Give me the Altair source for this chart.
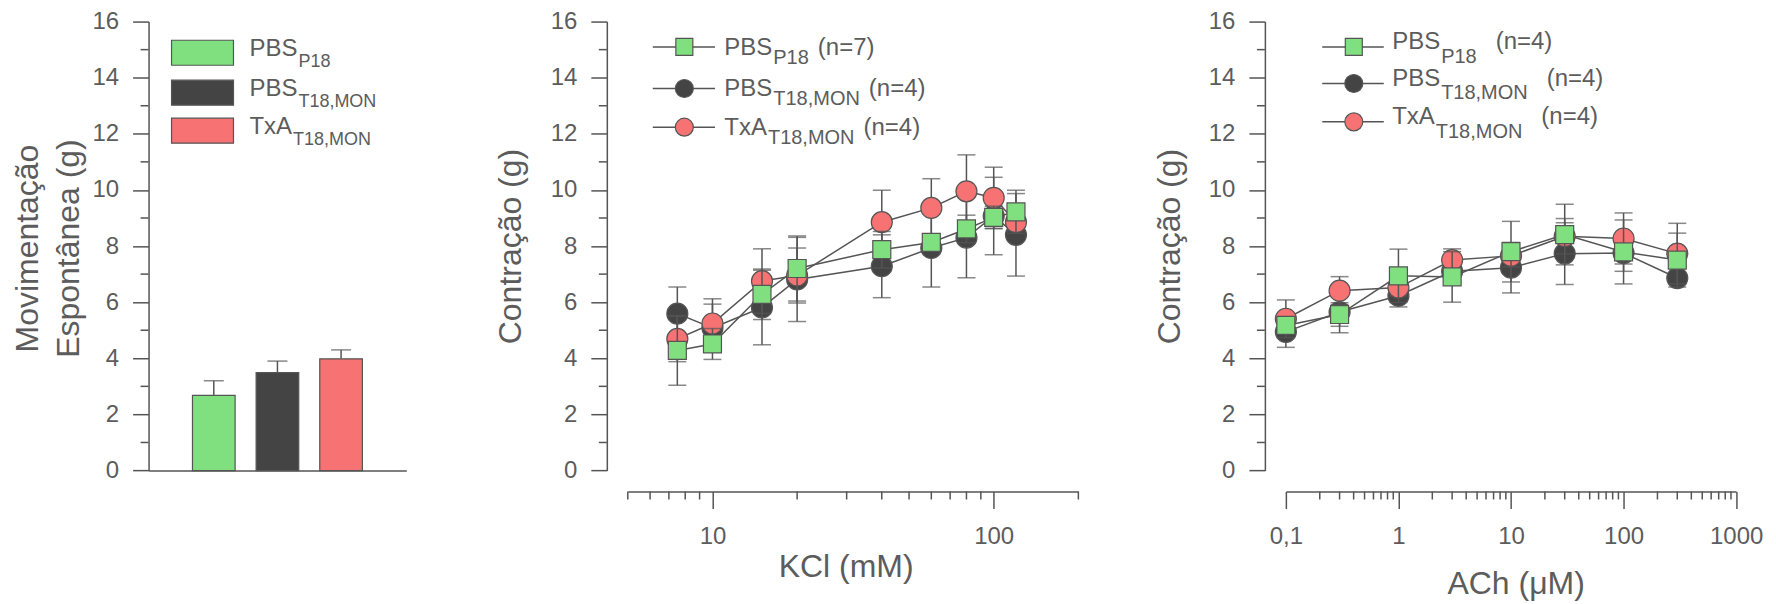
import altair as alt
import pandas as pd

FONT = "Liberation Sans"
TXT = "#5c5c5c"
AX = "#555555"
GREEN = "#80e080"
DARK = "#444444"
RED = "#f77272"

# ---------------- data ----------------
# Panel A: spontaneous movement (bars, mean + SEM)
bar_groups = ["PBS P18", "PBS T18,MON", "TxA T18,MON"]
bar_mean = [2.68, 3.49, 3.98]
bar_sem = [0.52, 0.41, 0.32]

# Panel B: KCl concentration-response
kcl_mM = [7.5, 10, 15, 20, 40, 60, 80, 100, 120]
kcl_pbs_p18 = [4.28, 4.51, 6.28, 7.20, 7.87, 8.13, 8.61, 9.02, 9.22]
kcl_pbs_p18_sem = [1.24, 0.55, 0.90, 1.16, 0.65, 0.30, 0.49, 0.40, 0.77]
kcl_pbs_t18 = [5.59, 5.08, 5.81, 6.81, 7.28, 7.93, 8.30, 9.07, 8.40]
kcl_pbs_t18_sem = [0.95, 0.85, 1.33, 1.50, 1.12, 1.39, 1.43, 1.38, 1.47]
kcl_txa_t18 = [4.69, 5.24, 6.75, 6.95, 8.85, 9.36, 9.95, 9.72, 8.85]
kcl_txa_t18_sem = [0.81, 0.88, 1.15, 0.98, 1.14, 1.04, 1.30, 1.09, 0.30]

# Panel C: ACh concentration-response
ach_uM = [0.1, 0.3, 1, 3, 10, 30, 100, 300]
ach_pbs_p18 = [5.17, 5.56, 6.94, 6.90, 7.80, 8.41, 7.79, 7.50]
ach_pbs_p18_sem = [0.20, 0.42, 0.95, 0.90, 1.08, 1.08, 1.14, 0.96]
ach_pbs_t18 = [4.94, 5.65, 6.23, 7.10, 7.23, 7.73, 7.75, 6.86]
ach_pbs_t18_sem = [0.55, 0.74, 0.40, 0.30, 0.90, 1.10, 0.65, 0.20]
ach_txa_t18 = [5.41, 6.41, 6.52, 7.50, 7.65, 8.35, 8.27, 7.73]
ach_txa_t18_sem = [0.67, 0.50, 0.30, 0.40, 0.40, 0.63, 0.91, 1.08]

# legend texts
leg_main = ["PBS", "PBS", "TxA"]
leg_sub = ["P18", "T18,MON", "T18,MON"]
kcl_n = ["(n=7)", "(n=4)", "(n=4)"]
ach_n = ["(n=4)", "(n=4)", "(n=4)"]

# axis ticks
y_major = [0, 2, 4, 6, 8, 10, 12, 14, 16]
y_minor = [1, 3, 5, 7, 9, 11, 13, 15]
kcl_major = [10, 100]
kcl_minor = [5, 6, 7, 8, 9, 20, 30, 40, 50, 60, 70, 80, 90, 200]
ach_major = [0.1, 1, 10, 100, 1000]
ach_minor = [m * d for d in [0.1, 1, 10, 100] for m in [2, 3, 4, 5, 6, 7, 8, 9]]

# ---------------- layout constants ----------------
TOP = 21.3            # absolute y of the plot tops
BOTTOM = 470.7        # absolute y of value 0
H = BOTTOM - TOP
W1 = 258
W2_RANGE = 451
W3 = 450.7
SPACING = 221.7
W2 = 436.9
OFF = 21
TITLE_FS = 32
LEG_FS = 24
SUB_FS = 20

one = pd.DataFrame({"k": [0]})

ARIAL = {'P': 667, 'B': 667, 'S': 667, 'T': 611, 'x': 500, 'A': 667, '1': 556, '8': 556,
         ',': 278, 'M': 833, 'O': 778, 'N': 722, ' ': 278, '(': 333, ')': 333, 'n': 556,
         '=': 584, '7': 556, '4': 556}


def tw(s, fs):
    return sum(ARIAL.get(c, 556) for c in s) * fs / 1000.0


def vtext(s, x, y, fs):
    return alt.Chart(one).mark_text(align="left", baseline="alphabetic", font=FONT,
                                    fontSize=fs, color=TXT).encode(
        x=alt.value(x), y=alt.value(y), text=alt.value(s))


# ---------------- Panel A ----------------
bar_df = pd.DataFrame({"grp": bar_groups, "mean": bar_mean, "sem": bar_sem})
bar_df["hi"] = bar_df["mean"] + bar_df["sem"]

ysc1 = alt.Scale(domain=[0, 16], nice=False, zero=False)
xb = alt.X("grp:N", sort=bar_groups,
           scale=alt.Scale(paddingInner=0.33, paddingOuter=0.69),
           axis=alt.Axis(title=None, labels=False, ticks=False, domain=True))
yax1 = alt.Axis(values=y_major, tickSize=16, labelPadding=14,
                title=["Movimentação", "Espontânea (g)"], titleAngle=270,
                titleBaseline="top", titleAlign="center", titleX=-136.3,
                titleY=248 - TOP, titleLineHeight=41.5)

base1 = alt.Chart(bar_df)
err1 = base1.mark_rule(color=AX, strokeWidth=1.5).encode(
    x=xb, y=alt.Y("mean:Q", scale=ysc1, axis=yax1), y2="hi:Q")
cap1 = base1.mark_tick(orient="horizontal", size=20, thickness=1.5, color=AX).encode(
    x=xb, y=alt.Y("hi:Q", scale=ysc1, axis=yax1))
bars = base1.mark_bar(stroke=AX, strokeWidth=1.2, opacity=1).encode(
    x=xb, y=alt.Y("mean:Q", scale=ysc1, axis=yax1),
    color=alt.Color("grp:N", scale=alt.Scale(domain=bar_groups, range=[GREEN, DARK, RED]),
                    legend=None))
minor1 = alt.Chart(pd.DataFrame({"v": y_minor})).mark_rule(color=AX, strokeWidth=1.5).encode(
    y=alt.Y("v:Q", scale=ysc1, axis=yax1), x=alt.value(-8), x2=alt.value(0))

leg1 = []
box_tops_abs = [40, 80, 118]
for i in range(3):
    t = box_tops_abs[i] - TOP
    leg1.append(alt.Chart(one).mark_rect(fill=[GREEN, DARK, RED][i], stroke=AX, strokeWidth=1.2).encode(
        x=alt.value(23), x2=alt.value(85), y=alt.value(t), y2=alt.value(t + 25)))
    tx = 101
    leg1.append(vtext(leg_main[i], tx, t + 16, 24))
    leg1.append(vtext(leg_sub[i], tx + tw(leg_main[i], 24) + 1, t + 26.5, 18))

p1 = alt.layer(minor1, err1, cap1, bars, *leg1).properties(width=W1, height=H)


# ---------------- curve panels ----------------
def curve_panel(conc, series, xdom, xrange_w, view_w, major, minor, label_expr,
                xtitle, xtitle_x, xtitle_y, ytitle_x, legend_rows_abs, leg_mx, leg_l0, leg_l1,
                leg_tx, n_labels, main_dy, sub_dy, gap):
    xsc = alt.Scale(type="log", domain=xdom, range=[0, xrange_w], nice=False)
    ysc = alt.Scale(domain=[0, 16], nice=False, zero=False)
    xax = alt.Axis(values=major, tickSize=17, labelPadding=16, offset=OFF,
                   labelExpr=label_expr, labelFlush=False, labelOverlap=False,
                   title=xtitle, titleX=xtitle_x, titleY=xtitle_y, titleBaseline="top",
                   titleAlign="center", titleAngle=0)
    yax = alt.Axis(values=y_major, tickSize=16, labelPadding=14, offset=OFF,
                   title="Contração (g)", titleAngle=270, titleBaseline="top",
                   titleAlign="center", titleX=ytitle_x, titleY=246 - TOP)
    rows = []
    for name, vals, sems in series:
        for c, v, s in zip(conc, vals, sems):
            rows.append({"series": name, "c": c, "v": v, "lo": v - s, "hi": v + s})
    df = pd.DataFrame(rows)
    caps = pd.concat([df.assign(cap=df["lo"]), df.assign(cap=df["hi"])])

    def X(f):
        return alt.X(f, scale=xsc, axis=xax)

    def Y(f):
        return alt.Y(f, scale=ysc, axis=yax)

    layers = []
    # minor ticks
    layers.append(alt.Chart(pd.DataFrame({"v": y_minor})).mark_rule(color=AX, strokeWidth=1.5).encode(
        y=Y("v:Q"), x=alt.value(-OFF - 8), x2=alt.value(-OFF)))
    layers.append(alt.Chart(pd.DataFrame({"m": minor})).mark_rule(color=AX, strokeWidth=1.5).encode(
        x=X("m:Q"), y=alt.value(H + OFF), y2=alt.value(H + OFF + 8)))
    # lines
    layers.append(alt.Chart(df).mark_line(color=AX, strokeWidth=1.5).encode(
        x=X("c:Q"), y=Y("v:Q"), detail="series:N"))
    styles = {"dark": ("circle", DARK, 441), "red": ("circle", RED, 441), "green": ("square", GREEN, 324)}
    for key in ["dark", "red", "green"]:
        sub = df[df["series"] == key]
        subc = caps[caps["series"] == key]
        layers.append(alt.Chart(sub).mark_rule(color=AX, strokeWidth=1.5).encode(
            x=X("c:Q"), y=Y("lo:Q"), y2="hi:Q"))
        layers.append(alt.Chart(subc).mark_tick(orient="horizontal", size=18, thickness=1.5, color=AX).encode(
            x=X("c:Q"), y=Y("cap:Q")))
        shp, col, sz = styles[key]
        layers.append(alt.Chart(sub).mark_point(shape=shp, filled=True, fill=col, stroke=AX,
                                                strokeWidth=1.2, size=sz, opacity=1).encode(
            x=X("c:Q"), y=Y("v:Q")))
    # legend
    leg_style = [("square", GREEN, 289), ("circle", DARK, 324), ("circle", RED, 324)]
    for i, ry_abs in enumerate(legend_rows_abs):
        ry = ry_abs - TOP
        layers.append(alt.Chart(one).mark_rule(color=AX, strokeWidth=1.5).encode(
            x=alt.value(leg_l0), x2=alt.value(leg_l1), y=alt.value(ry)))
        shp, col, sz = leg_style[i]
        layers.append(alt.Chart(one).mark_point(shape=shp, filled=True, fill=col, stroke=AX,
                                                strokeWidth=1.2, size=sz, opacity=1).encode(
            x=alt.value(leg_mx), y=alt.value(ry)))
        mw = tw(leg_main[i], LEG_FS)
        sw = tw(leg_sub[i], SUB_FS)
        layers.append(vtext(leg_main[i], leg_tx, ry + main_dy, LEG_FS))
        layers.append(vtext(leg_sub[i], leg_tx + mw + 1, ry + sub_dy, SUB_FS))
        layers.append(vtext(n_labels[i], leg_tx + mw + sw + gap, ry + main_dy, LEG_FS))
    return alt.layer(*layers).properties(width=view_w, height=H)


p2 = curve_panel(
    kcl_mM,
    [("green", kcl_pbs_p18, kcl_pbs_p18_sem), ("dark", kcl_pbs_t18, kcl_pbs_t18_sem),
     ("red", kcl_txa_t18, kcl_txa_t18_sem)],
    [5, 200], W2_RANGE, W2, kcl_major, kcl_minor, "format(datum.value, 'd')",
    "KCl (mM)", 218, 60, -111,
    [46.7, 88.3, 127], 56.6, 25, 87.3, 96.6, kcl_n, 8, 17, 10)

p3 = curve_panel(
    ach_uM,
    [("green", ach_pbs_p18, ach_pbs_p18_sem), ("dark", ach_pbs_t18, ach_pbs_t18_sem),
     ("red", ach_txa_t18, ach_txa_t18_sem)],
    [0.1, 1000], W3, W3, ach_major, ach_minor,
    "datum.value < 1 ? '0,1' : format(datum.value, 'd')",
    "ACh (μM)", 230, 77, -110,
    [46.7, 83.3, 121.7], 68, 36.4, 98, 106.4, ach_n, 2, 16, 20)

chart = alt.hconcat(p1, p2, p3, spacing=SPACING, bounds="flush").properties(
    padding={"left": 2.7, "top": 1.3, "right": 5, "bottom": 5}
).configure_view(stroke=None).configure_axis(
    domainColor=AX, domainWidth=1.5, tickColor=AX, tickWidth=1.5,
    labelColor=TXT, titleColor=TXT, labelFont=FONT, titleFont=FONT,
    labelFontSize=24, titleFontSize=TITLE_FS, titleFontWeight="normal", grid=False
)

chart.save("out.html", embed_options={"renderer": "svg", "actions": False})
